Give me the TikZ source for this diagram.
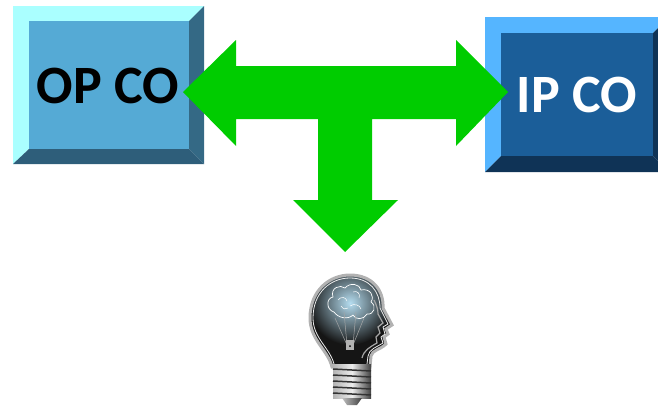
\documentclass[tikz,border=0pt]{standalone}
\usepackage{fontspec}
\setmainfont{Carlito}
\usetikzlibrary{calc}
\definecolor{flow}{HTML}{00CC00}
\definecolor{opface}{HTML}{55AAD5}
\definecolor{oplight}{HTML}{AAFFFF}
\definecolor{opright}{HTML}{346985}
\definecolor{opbottom}{HTML}{2E5E7A}
\definecolor{ipface}{HTML}{1B5E99}
\definecolor{iplight}{HTML}{55B5FF}
\definecolor{ipdark}{HTML}{0F3356}
\definecolor{glow}{HTML}{B5DDF0}
\definecolor{glassdark}{HTML}{151515}
\tikzset{
  label/.style={font=\bfseries\fontsize{54}{54}\selectfont, inner sep=0pt},
}
% outline of the bulb glass, with the head profile on its right side
\newcommand\glasspath{%
  (332,367) .. controls (328,350) and (310,340) .. (310,318)
  .. controls (310,290) and (330,275) .. (350,275)
  .. controls (372,275) and (384,290) .. (383,308)
  -- (392,325) -- (386,329) -- (388,334) -- (384,337) -- (386,344)
  .. controls (380,350) and (372,350) .. (371,356) -- (370,367) -- cycle}
\begin{document}
\begin{tikzpicture}[x=1pt,y=-1pt]
\useasboundingbox (0,0) rectangle (658,407);

% ---------- OP CO box ----------
\fill[oplight] (13,6) -- (204,6) -- (189,21) -- (29,21) -- (29,149) -- (13,164) -- cycle;
\fill[opright] (204,6) -- (204,164) -- (189,149) -- (189,21) -- cycle;
\fill[opbottom] (13,164) -- (204,164) -- (189,149) -- (29,149) -- cycle;
\fill[opface] (29,21) rectangle (189,149);
\node[label, text=black] (op) at (108,86) {OP CO};

% ---------- IP CO box ----------
\fill[iplight] (485,17) -- (669,17) -- (653,33) -- (501,33) -- (501,156) -- (485,172) -- cycle;
\fill[ipdark] (669,17) -- (669,172) -- (653,156) -- (653,33) -- cycle;
\fill[ipdark] (485,172) -- (669,172) -- (653,156) -- (501,156) -- cycle;
\fill[ipface] (501,33) rectangle (653,156);
\node[label, text=white] (ip) at (577,95) {IP CO};

% ---------- T-shaped three-way arrow ----------
\fill[flow] (183,92) -- (236,40) -- (236,66) -- (456,66) -- (456,40) -- (508,92)
  -- (456,146) -- (456,119) -- (372,119) -- (372,200) -- (398,200) -- (345,252)
  -- (293,200) -- (318,200) -- (318,119) -- (236,119) -- (236,146) -- cycle;

% ---------- light bulb with head profile ----------
\coordinate (idea) at (350,340);
\fill[glassdark] \glasspath;
\begin{scope}
  \clip \glasspath;
  \shade[inner color=glow, outer color=glassdark] (350,303) circle (42);
\end{scope}
\draw[gray!60, line width=3] \glasspath;
\draw[white!85!gray, line width=0.8]
  (334,364) .. controls (330,348) and (313,338) .. (313,318)
  .. controls (313,292) and (331,278) .. (350,278)
  .. controls (370,278) and (380,292) .. (380,308)
  -- (388,324) -- (383,327) -- (385,334) -- (381,337) -- (383,343)
  .. controls (377,347) and (369,349) .. (368,356) -- (367,364);
% second contour of the face, inside the glass
\draw[gray!70, line width=1.2]
  (374,300) .. controls (377,306) and (378,310) .. (378,314)
  -- (383,323) -- (378,327) -- (380,333) -- (376,337) -- (377,343)
  .. controls (370,347) and (364,350) .. (362,358);
% brain outline
\draw[white, line width=0.7]
  (334,312) .. controls (326,310) and (326,298) .. (333,297)
  .. controls (330,288) and (340,284) .. (345,288)
  .. controls (350,282) and (360,284) .. (361,290)
  .. controls (370,288) and (375,296) .. (371,302)
  .. controls (377,306) and (374,315) .. (367,314)
  .. controls (364,320) and (355,320) .. (353,315)
  .. controls (348,320) and (338,318) .. (334,312);
\draw[white, line width=0.5]
  (338,300) .. controls (341,296) and (346,297) .. (347,301)
  (353,292) .. controls (357,290) and (361,294) .. (359,298)
  (350,306) .. controls (354,303) and (360,305) .. (361,309)
  (341,306) .. controls (343,309) and (346,310) .. (348,308);
% filament
\draw[gray!70, line width=0.5]
  (344,312) -- (347,345) (356,312) -- (353,345)
  (335,318) -- (347,345) (364,318) -- (353,345);
\fill[gray!60] (346,340) rectangle (354,350);
\fill[black] (350,346) circle (1);
% screw base
\shade[left color=gray!60, right color=black!75, middle color=gray!15]
  (333,364) rectangle (371,398);
\foreach \y in {369,375,381,387,393}
  \draw[black!80, line width=1.5] (333,\y) -- (371,\y+2);
\shade[left color=gray!50, right color=black!75]
  (342,398) -- (362,398) -- (357,405) -- (347,405) -- cycle;
\end{tikzpicture}
\end{document}
